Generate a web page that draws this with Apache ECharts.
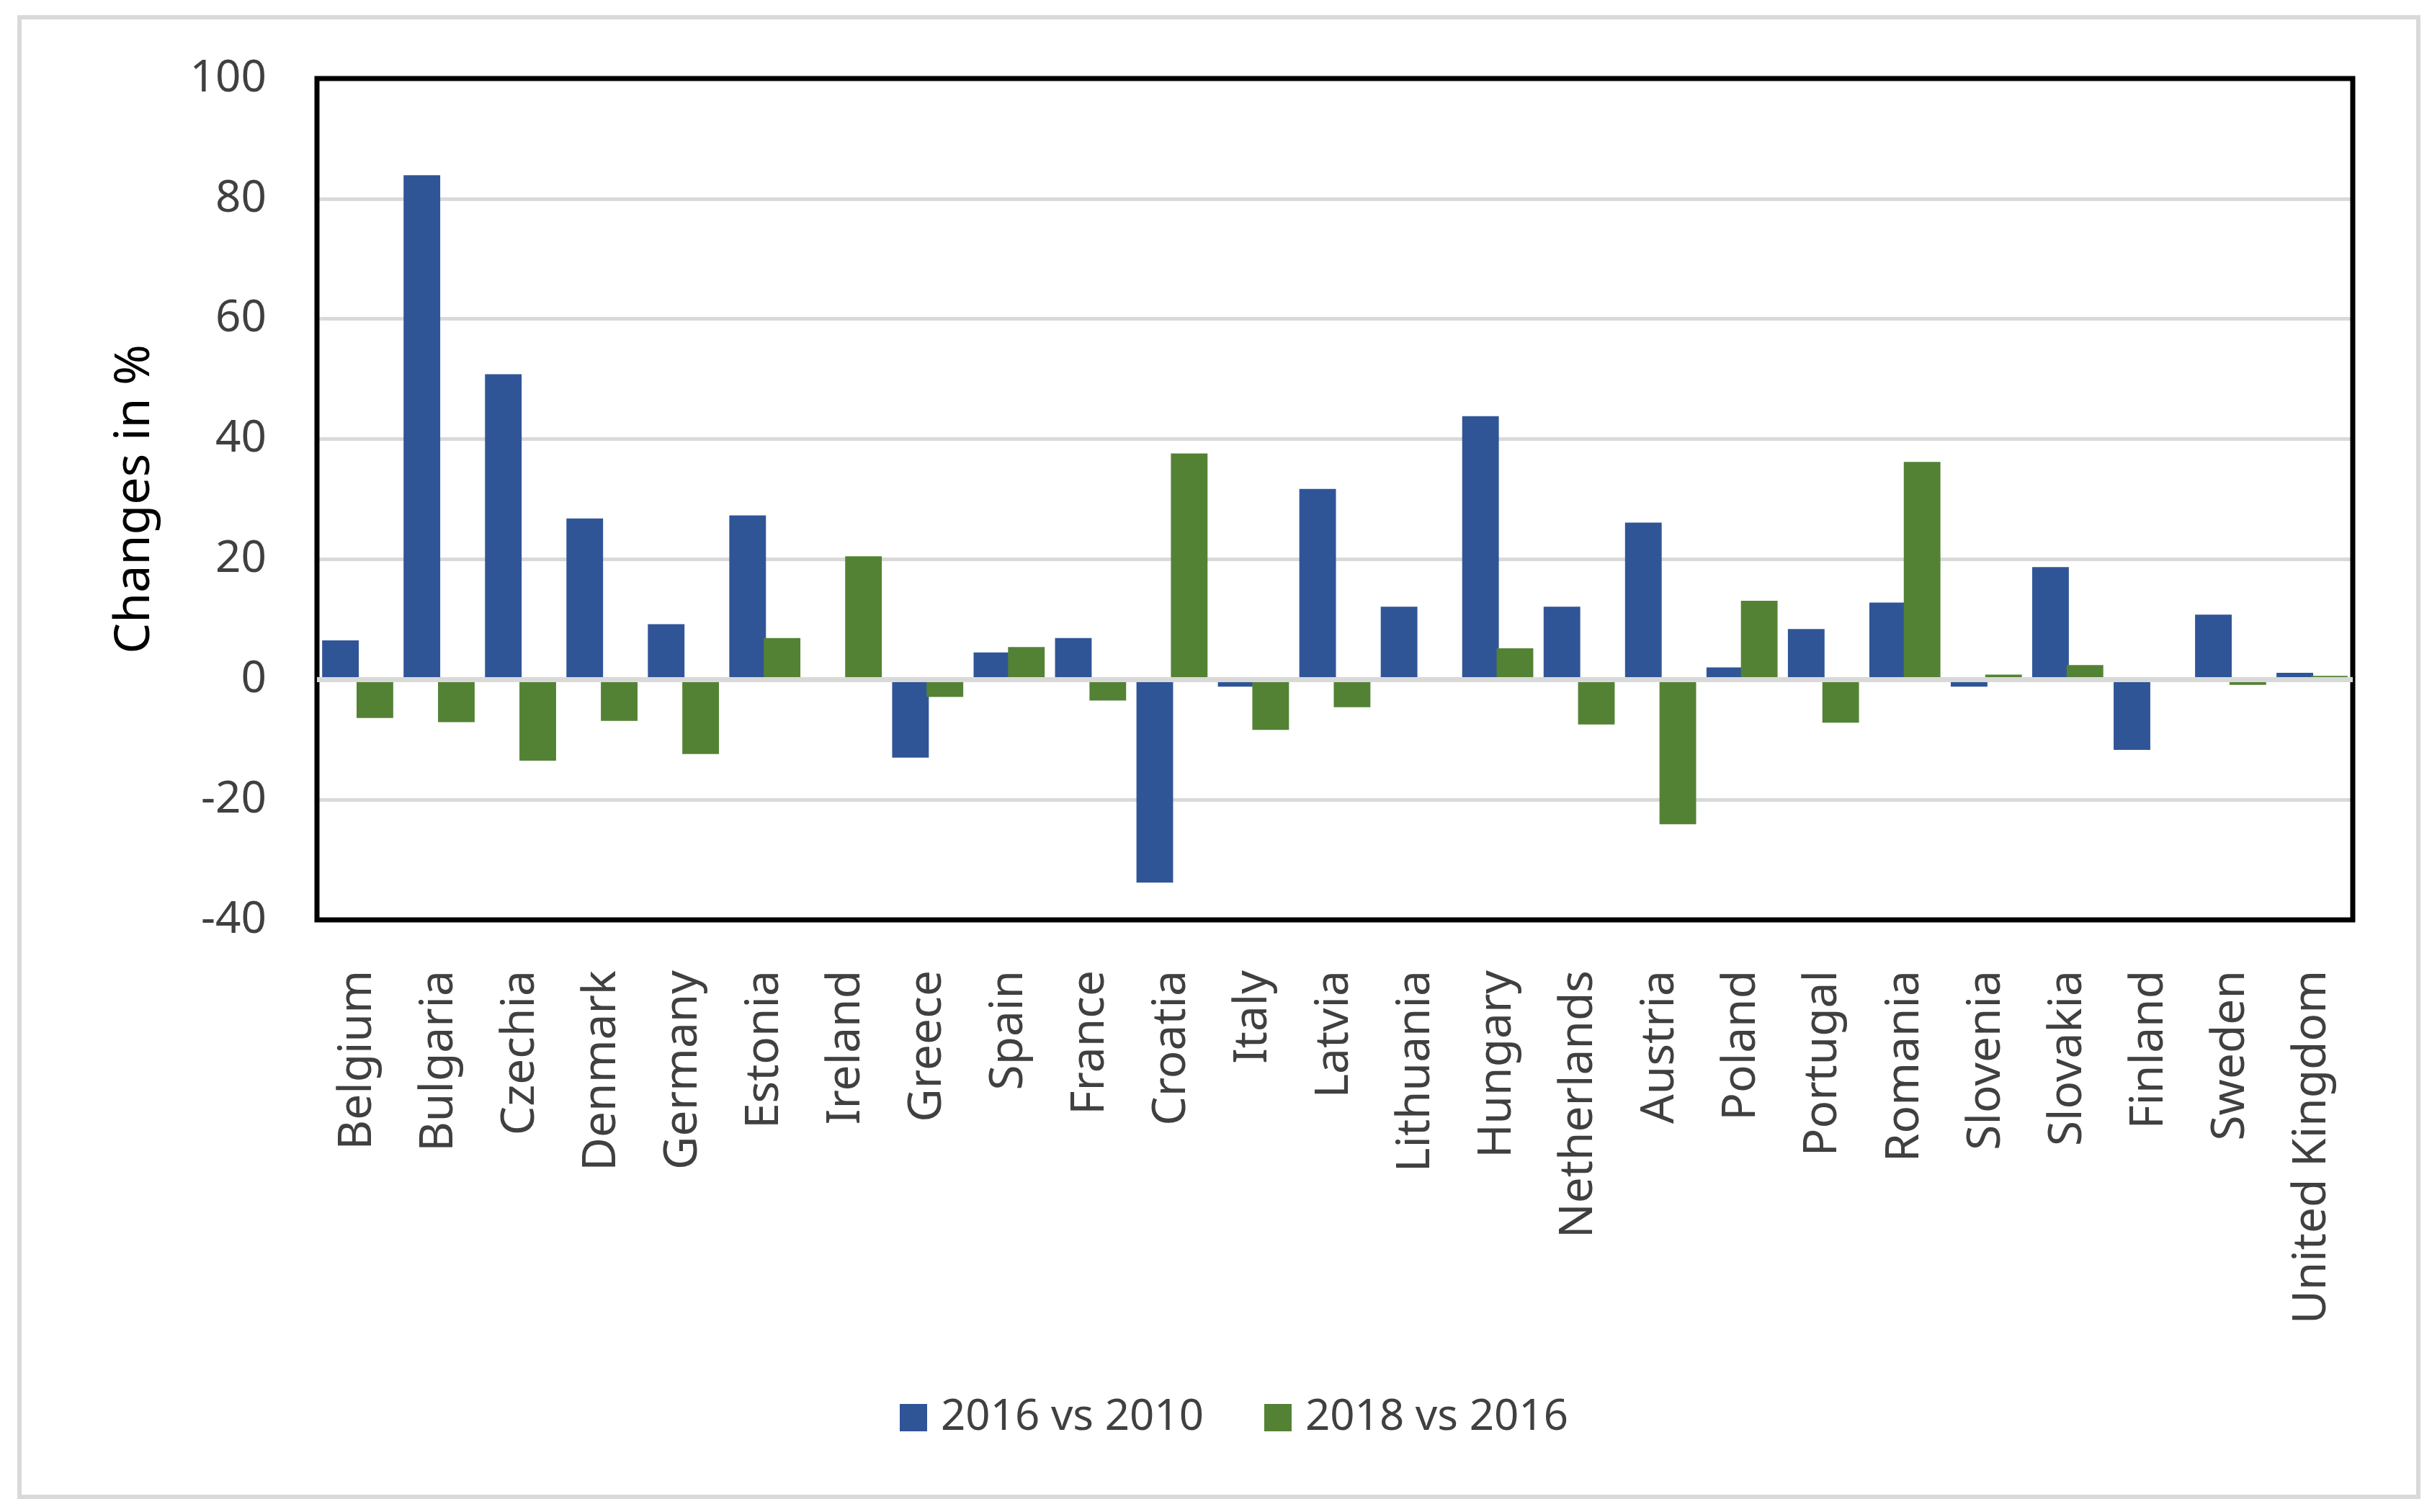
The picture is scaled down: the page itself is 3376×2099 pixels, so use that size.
<!DOCTYPE html>
<html>
<head>
<meta charset="utf-8">
<script src="https://cdn.jsdelivr.net/npm/echarts@6/dist/echarts.min.js"></script>
<style>
html,body{margin:0;padding:0;background:#fff;}
#chart{width:3376px;height:2099px;}
</style>
</head>
<body>
<div id="chart"></div>
<script>
const categories = ["Belgium","Bulgaria","Czechia","Denmark","Germany","Estonia","Ireland","Greece","Spain","France","Croatia","Italy","Latvia","Lithuania","Hungary","Netherlands","Austria","Poland","Portugal","Romania","Slovenia","Slovakia","Finland","Sweden","United Kingdom"];
const series2016vs2010 = [6.5,83.9,50.8,26.8,9.2,27.3,0.3,-13.0,4.5,6.9,-33.8,-1.2,31.7,12.1,43.8,12.1,26.1,2.0,8.4,12.8,-1.2,18.7,-11.7,10.8,1.1];
const series2018vs2016 = [-6.4,-7.1,-13.5,-6.9,-12.4,6.9,20.5,-2.9,5.4,-3.5,37.6,-8.4,-4.6,-0.4,5.2,-7.5,-24.1,13.1,-7.2,36.2,0.8,2.4,0,-0.9,0.6];
const seriesNames = ["2016 vs 2010","2018 vs 2016"];
const yTicks = {min:-40,max:100,interval:20};

const chart = echarts.init(document.getElementById('chart'));
const font = "'Noto Sans', 'Open Sans', sans-serif";
chart.setOption({
  animation:false,
  backgroundColor:'#fff',
  graphic:[{type:'rect',shape:{x:27,y:24,width:3330,height:2054},style:{fill:'none',stroke:'#D9D9D9',lineWidth:6},silent:true,z:-1}],
  grid:{left:440,right:110,top:109,bottom:822,show:true,borderColor:'#000',borderWidth:7,backgroundColor:'transparent',z:5},
  legend:{
    data:seriesNames,bottom:96,left:1244,itemWidth:38,itemHeight:38,itemGap:84,
    icon:'rect',textStyle:{fontFamily:font,fontSize:60,color:'#404040',padding:[0,0,0,14]}
  },
  xAxis:{
    type:'category',data:categories,
    axisLine:{show:false},axisTick:{show:false},
    axisLabel:{rotate:90,fontFamily:font,fontSize:64,color:'#404040',margin:70,interval:0}
  },
  yAxis:{
    type:'value',min:yTicks.min,max:yTicks.max,interval:yTicks.interval,
    name:'Changes in %',nameLocation:'middle',nameGap:218,
    nameTextStyle:{fontFamily:font,fontSize:68,color:'#000'},
    axisLine:{show:false},axisTick:{show:false},
    axisLabel:{fontFamily:font,fontSize:62,color:'#404040',margin:70},
    splitLine:{lineStyle:{color:'#D9D9D9',width:5}}
  },
  series:[
    {name:seriesNames[0],type:'bar',data:series2016vs2010,barWidth:'45%',barGap:'-6%',
     itemStyle:{color:'#2F5597'},
     markLine:{silent:true,symbol:'none',label:{show:false},lineStyle:{color:'#D9D9D9',width:7,type:'solid'},data:[{yAxis:0}],z:10}},
    {name:seriesNames[1],type:'bar',data:series2018vs2016,barWidth:'45%',barGap:'-6%',
     itemStyle:{color:'#548235'}}
  ]
});
</script>
</body>
</html>
